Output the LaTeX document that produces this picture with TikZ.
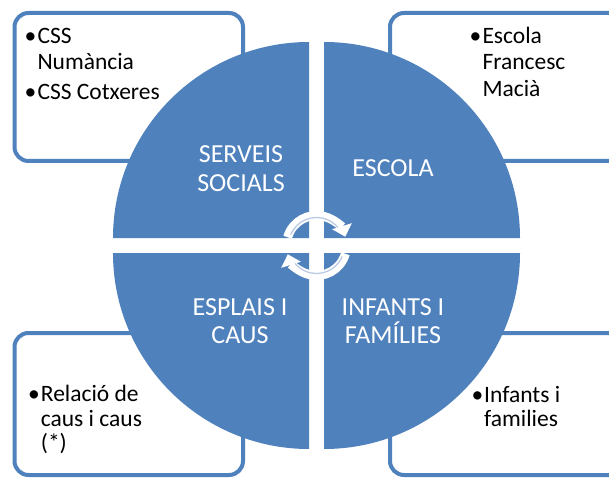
\documentclass[tikz,border=0pt]{standalone}
\usepackage{fontspec}
\setmainfont{Carlito}
\usetikzlibrary{arrows.meta}
\definecolor{qblue}{HTML}{4F81BD}
\definecolor{arcline}{HTML}{BACAE4}
\begin{document}
\begin{tikzpicture}[x=1pt,y=-1pt,
  infobox/.style={draw=qblue, line width=4pt, fill=white, rounded corners=14pt, inner sep=0pt},
  quad/.style={fill=qblue},
  boxtext/.style={anchor=base west, inner sep=0pt, font=\fontsize{23.5}{28}\selectfont, text=black},
  quadtext/.style={anchor=base, inner sep=0pt, font=\fontsize{26}{30}\selectfont, text=white},
  cyc/.style={white, line width=9pt, -{Triangle[width=20pt,length=11pt]}},
  cycline/.style={arcline, line width=1.3pt}
]
\clip (0,0) rectangle (609,478);
\fill[white] (0,0) rectangle (609,478);
% boxes
\node[infobox, minimum width=228.5pt, minimum height=148pt] (tlbox) at (128.75,87) {};
\node[infobox, minimum width=233pt, minimum height=148pt] (trbox) at (506.5,87) {};
\node[infobox, minimum width=228.5pt, minimum height=142pt] (blbox) at (128.75,404) {};
\node[infobox, minimum width=233pt, minimum height=142pt] (brbox) at (506.5,404) {};
% quadrants
\fill[quad] (309,238) -- (113,238) arc[start angle=180,end angle=270,radius=196] -- cycle;
\fill[quad] (324,238) -- (324,42) arc[start angle=270,end angle=360,radius=196] -- cycle;
\fill[quad] (324,253) -- (520,253) arc[start angle=0,end angle=90,radius=196] -- cycle;
\fill[quad] (309,253) -- (309,449) arc[start angle=90,end angle=180,radius=196] -- cycle;
% box texts
\node[boxtext] (tlb1) at (24.5,43.3) {•};
\node[boxtext] (tl1) at (37.3,43.3) {CSS};
\node[boxtext] (tl2) at (37.3,69.5) {Numància};
\node[boxtext] (tlb2) at (24.5,100) {•};
\node[boxtext] (tl3) at (37.3,100) {CSS Cotxeres};
\node[boxtext] (trb1) at (469.5,43.3) {•};
\node[boxtext] (tr1) at (482.3,43.3) {Escola};
\node[boxtext] (tr2) at (482.3,70) {Francesc};
\node[boxtext] (tr3) at (482.3,96.7) {Macià};
\node[boxtext] (blb1) at (28,401.7) {•};
\node[boxtext] (bl1) at (40.7,401.7) {Relació de};
\node[boxtext] (bl2) at (40.7,426) {caus i caus};
\node[boxtext] (bl3) at (40.7,450.5) {(*)};
\node[boxtext] (brb1) at (471.5,402.7) {•};
\node[boxtext] (br1) at (484,402.7) {Infants i};
\node[boxtext] (br2) at (484,426.5) {families};
% quadrant labels
\node[quadtext] (q1a) at (241,163) {SERVEIS};
\node[quadtext] (q1b) at (241,192) {SOCIALS};
\node[quadtext] (q2) at (393,177) {ESCOLA};
\node[quadtext] (q3a) at (240,315) {ESPLAIS I};
\node[quadtext] (q3b) at (240,343) {CAUS};
\node[quadtext] (q4a) at (393,315) {INFANTS I};
\node[quadtext] (q4b) at (393,343) {FAMÍLIES};
% cycle arrows
\coordinate (cc) at (316.5,245.5);
\draw[cyc] ([shift={(196:30)}]cc) arc[start angle=196,end angle=343,radius=30];
\draw[cyc] ([shift={(16:30)}]cc) arc[start angle=16,end angle=163,radius=30];
\draw[cycline] ([shift={(203:28)}]cc) arc[start angle=203,end angle=320,radius=28];
\draw[cycline] ([shift={(23:28)}]cc) arc[start angle=23,end angle=140,radius=28];
\end{tikzpicture}
\end{document}
